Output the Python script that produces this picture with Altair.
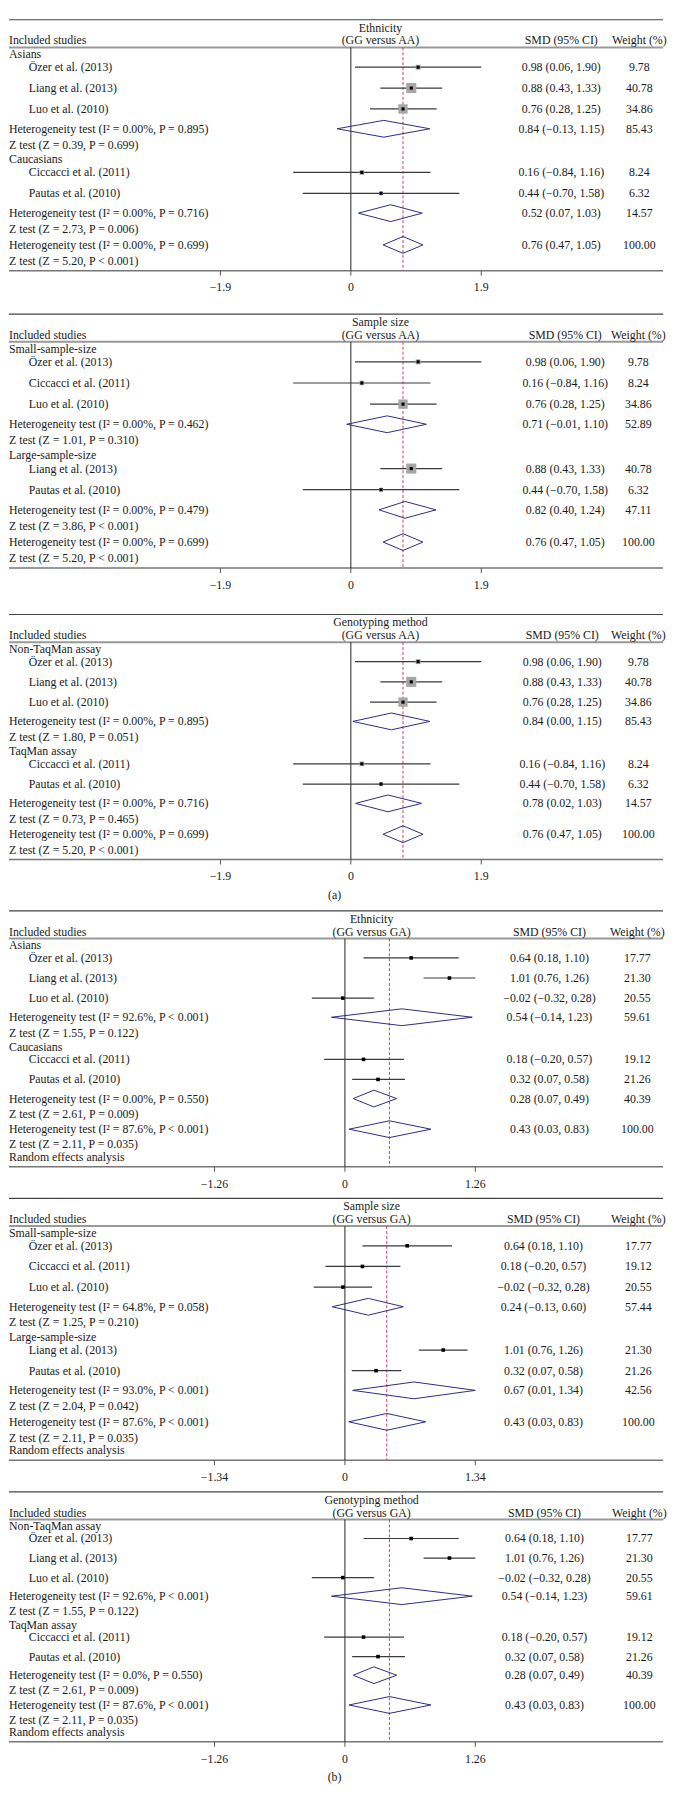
import altair as alt
import pandas as pd

FONT = "Liberation Serif"
FS = 12
W = 662          # plot width of every panel
HR = 28          # header rule position inside a panel
NAVY = "#2b2b80"

# ---------------- (a) GG versus AA ----------------
a1_kind = ["group", "study", "study", "study", "het", "z", "group", "study", "study", "het", "z", "het", "z"]
a1_label = ["Asians", "Özer et al. (2013)", "Liang et al. (2013)", "Luo et al. (2010)",
            "Heterogeneity test (I² = 0.00%, P = 0.895)", "Z test (Z = 0.39, P = 0.699)",
            "Caucasians", "Ciccacci et al. (2011)", "Pautas et al. (2010)",
            "Heterogeneity test (I² = 0.00%, P = 0.716)", "Z test (Z = 2.73, P = 0.006)",
            "Heterogeneity test (I² = 0.00%, P = 0.699)", "Z test (Z = 5.20, P < 0.001)"]
a1_smd = ["", "0.98 (0.06, 1.90)", "0.88 (0.43, 1.33)", "0.76 (0.28, 1.25)", "0.84 (−0.13, 1.15)", "",
          "", "0.16 (−0.84, 1.16)", "0.44 (−0.70, 1.58)", "0.52 (0.07, 1.03)", "", "0.76 (0.47, 1.05)", ""]
a1_weight = ["", "9.78", "40.78", "34.86", "85.43", "", "", "8.24", "6.32", "14.57", "", "100.00", ""]
a1_est = [None, 0.98, 0.88, 0.76, 0.48, None, None, 0.16, 0.44, 0.58, None, 0.76, None]
a1_lo = [None, 0.06, 0.43, 0.28, -0.20, None, None, -0.84, -0.70, 0.11, None, 0.47, None]
a1_hi = [None, 1.90, 1.33, 1.25, 1.15, None, None, 1.16, 1.58, 1.04, None, 1.05, None]

a2_kind = ["group", "study", "study", "study", "het", "z", "group", "study", "study", "het", "z", "het", "z"]
a2_label = ["Small-sample-size", "Özer et al. (2013)", "Ciccacci et al. (2011)", "Luo et al. (2010)",
            "Heterogeneity test (I² = 0.00%, P = 0.462)", "Z test (Z = 1.01, P = 0.310)",
            "Large-sample-size", "Liang et al. (2013)", "Pautas et al. (2010)",
            "Heterogeneity test (I² = 0.00%, P = 0.479)", "Z test (Z = 3.86, P < 0.001)",
            "Heterogeneity test (I² = 0.00%, P = 0.699)", "Z test (Z = 5.20, P < 0.001)"]
a2_smd = ["", "0.98 (0.06, 1.90)", "0.16 (−0.84, 1.16)", "0.76 (0.28, 1.25)", "0.71 (−0.01, 1.10)", "",
          "", "0.88 (0.43, 1.33)", "0.44 (−0.70, 1.58)", "0.82 (0.40, 1.24)", "", "0.76 (0.47, 1.05)", ""]
a2_weight = ["", "9.78", "8.24", "34.86", "52.89", "", "", "40.78", "6.32", "47.11", "", "100.00", ""]
a2_est = [None, 0.98, 0.16, 0.76, 0.53, None, None, 0.88, 0.44, 0.79, None, 0.76, None]
a2_lo = [None, 0.06, -0.84, 0.28, -0.06, None, None, 0.43, -0.70, 0.41, None, 0.47, None]
a2_hi = [None, 1.90, 1.16, 1.25, 1.10, None, None, 1.33, 1.58, 1.24, None, 1.05, None]

a3_kind = ["group", "study", "study", "study", "het", "z", "group", "study", "study", "het", "z", "het", "z"]
a3_label = ["Non-TaqMan assay", "Özer et al. (2013)", "Liang et al. (2013)", "Luo et al. (2010)",
            "Heterogeneity test (I² = 0.00%, P = 0.895)", "Z test (Z = 1.80, P = 0.051)",
            "TaqMan assay", "Ciccacci et al. (2011)", "Pautas et al. (2010)",
            "Heterogeneity test (I² = 0.00%, P = 0.716)", "Z test (Z = 0.73, P = 0.465)",
            "Heterogeneity test (I² = 0.00%, P = 0.699)", "Z test (Z = 5.20, P < 0.001)"]
a3_smd = ["", "0.98 (0.06, 1.90)", "0.88 (0.43, 1.33)", "0.76 (0.28, 1.25)", "0.84 (0.00, 1.15)", "",
          "", "0.16 (−0.84, 1.16)", "0.44 (−0.70, 1.58)", "0.78 (0.02, 1.03)", "", "0.76 (0.47, 1.05)", ""]
a3_weight = ["", "9.78", "40.78", "34.86", "85.43", "", "", "8.24", "6.32", "14.57", "", "100.00", ""]
a3_est = [None, 0.98, 0.88, 0.76, 0.59, None, None, 0.16, 0.44, 0.54, None, 0.76, None]
a3_lo = [None, 0.06, 0.43, 0.28, 0.03, None, None, -0.84, -0.70, 0.07, None, 0.47, None]
a3_hi = [None, 1.90, 1.33, 1.25, 1.15, None, None, 1.16, 1.58, 1.03, None, 1.05, None]

# ---------------- (b) GG versus GA ----------------
b1_kind = ["group", "study", "study", "study", "het", "z", "group", "study", "study", "het", "z", "het", "z", "note"]
b1_label = ["Asians", "Özer et al. (2013)", "Liang et al. (2013)", "Luo et al. (2010)",
            "Heterogeneity test (I² = 92.6%, P < 0.001)", "Z test (Z = 1.55, P = 0.122)",
            "Caucasians", "Ciccacci et al. (2011)", "Pautas et al. (2010)",
            "Heterogeneity test (I² = 0.00%, P = 0.550)", "Z test (Z = 2.61, P = 0.009)",
            "Heterogeneity test (I² = 87.6%, P < 0.001)", "Z test (Z = 2.11, P = 0.035)",
            "Random effects analysis"]
b1_smd = ["", "0.64 (0.18, 1.10)", "1.01 (0.76, 1.26)", "−0.02 (−0.32, 0.28)", "0.54 (−0.14, 1.23)", "",
          "", "0.18 (−0.20, 0.57)", "0.32 (0.07, 0.58)", "0.28 (0.07, 0.49)", "", "0.43 (0.03, 0.83)", "", ""]
b1_weight = ["", "17.77", "21.30", "20.55", "59.61", "", "", "19.12", "21.26", "40.39", "", "100.00", "", ""]
b1_est = [None, 0.64, 1.01, -0.02, 0.55, None, None, 0.18, 0.32, 0.28, None, 0.43, None, None]
b1_lo = [None, 0.18, 0.76, -0.32, -0.13, None, None, -0.20, 0.07, 0.08, None, 0.04, None, None]
b1_hi = [None, 1.10, 1.26, 0.28, 1.23, None, None, 0.57, 0.58, 0.50, None, 0.83, None, None]

b2_kind = ["group", "study", "study", "study", "het", "z", "group", "study", "study", "het", "z", "het", "z", "note"]
b2_label = ["Small-sample-size", "Özer et al. (2013)", "Ciccacci et al. (2011)", "Luo et al. (2010)",
            "Heterogeneity test (I² = 64.8%, P = 0.058)", "Z test (Z = 1.25, P = 0.210)",
            "Large-sample-size", "Liang et al. (2013)", "Pautas et al. (2010)",
            "Heterogeneity test (I² = 93.0%, P < 0.001)", "Z test (Z = 2.04, P = 0.042)",
            "Heterogeneity test (I² = 87.6%, P < 0.001)", "Z test (Z = 2.11, P = 0.035)",
            "Random effects analysis"]
b2_smd = ["", "0.64 (0.18, 1.10)", "0.18 (−0.20, 0.57)", "−0.02 (−0.32, 0.28)", "0.24 (−0.13, 0.60)", "",
          "", "1.01 (0.76, 1.26)", "0.32 (0.07, 0.58)", "0.67 (0.01, 1.34)", "", "0.43 (0.03, 0.83)", "", ""]
b2_weight = ["", "17.77", "19.12", "20.55", "57.44", "", "", "21.30", "21.26", "42.56", "", "100.00", "", ""]
b2_est = [None, 0.64, 0.18, -0.02, 0.24, None, None, 1.01, 0.32, 0.71, None, 0.43, None, None]
b2_lo = [None, 0.18, -0.20, -0.32, -0.13, None, None, 0.76, 0.07, 0.08, None, 0.04, None, None]
b2_hi = [None, 1.10, 0.57, 0.28, 0.60, None, None, 1.26, 0.58, 1.34, None, 0.83, None, None]

b3_kind = ["group", "study", "study", "study", "het", "z", "group", "study", "study", "het", "z", "het", "z", "note"]
b3_label = ["Non-TaqMan assay", "Özer et al. (2013)", "Liang et al. (2013)", "Luo et al. (2010)",
            "Heterogeneity test (I² = 92.6%, P < 0.001)", "Z test (Z = 1.55, P = 0.122)",
            "TaqMan assay", "Ciccacci et al. (2011)", "Pautas et al. (2010)",
            "Heterogeneity test (I² = 0.0%, P = 0.550)", "Z test (Z = 2.61, P = 0.009)",
            "Heterogeneity test (I² = 87.6%, P < 0.001)", "Z test (Z = 2.11, P = 0.035)",
            "Random effects analysis"]
b3_smd = b1_smd
b3_weight = b1_weight
b3_est = b1_est
b3_lo = b1_lo
b3_hi = b1_hi

ticks_a = [-1.9, 0, 1.9]
ticks_a_lab = ["−1.9", "0", "1.9"]
ticks_b = [-1.26, 0, 1.26]
ticks_b_lab = ["−1.26", "0", "1.26"]
ticks_b2 = [-1.34, 0, 1.34]
ticks_b2_lab = ["−1.34", "0", "1.34"]

GAP = {("group", "study"): 13, ("study", "study"): 21, ("study", "het"): 20,
       ("het", "z"): 16, ("z", "group"): 15, ("z", "het"): 16, ("z", "note"): 13}


def build(kind, label, smd, weight, est, lo, hi, title, sub, ticks, tick_lab, ref,
          zero_px, height, rule_y, smd_c, w_c, title_c, squares, letter=None, letter_y=0):
    ppu = 132.0 / ticks[2]
    xs = alt.Scale(domain=[-zero_px / ppu, (W - zero_px) / ppu], nice=False, zero=False)
    ys = alt.Scale(domain=[0, height], reverse=True, nice=False, zero=False)

    def X(f):
        return alt.X(f, type="quantitative", scale=xs, axis=None)

    def Y(f):
        return alt.Y(f, type="quantitative", scale=ys, axis=None)

    # row layout from row kinds
    gaps, prev = [], None
    for k in kind:
        gaps.append(0 if prev is None else GAP[(prev, k)])
        prev = k
    first, last = HR + 7, rule_y - 10
    f = (last - first) / sum(gaps)
    yv, acc = [], first
    for g in gaps:
        acc += g * f
        yv.append(acc)

    df = pd.DataFrame({"kind": kind, "label": label, "smd": smd, "weight": weight,
                       "est": est, "lo": lo, "hi": hi, "y": yv})
    df["wnum"] = pd.to_numeric(df["weight"], errors="coerce")
    studies = df[df.kind == "study"]
    hets = df[df.kind == "het"].reset_index(drop=True)

    dia = []
    for i, r in hets.iterrows():
        pts = [(r.lo, r.y), (r.est, r.y - 8.5), (r.hi, r.y), (r.est, r.y + 8.5), (r.lo, r.y)]
        for j, (px, py) in enumerate(pts):
            dia.append({"id": i, "o": j, "x": px, "y": py})
    dia = pd.DataFrame(dia)

    hlines = pd.DataFrame({"y": [0.0, float(HR), float(rule_y)]})
    vlines = pd.DataFrame({"x": [0.0], "r": [ref], "y1": [float(HR)], "y2": [float(rule_y)]})
    tk = pd.DataFrame({"x": ticks, "lab": tick_lab, "y1": [float(rule_y)] * 3,
                       "y2": [rule_y + 5.0] * 3, "yl": [rule_y + 17.0] * 3})
    one = pd.DataFrame({"a": [0]})

    layers = [
        alt.Chart(hlines.iloc[[0]]).mark_rule(color="#444", strokeWidth=1.2).encode(
            x=alt.value(0), x2=alt.value(W), y=Y("y")),
        alt.Chart(hlines.iloc[[1]]).mark_rule(color="#999", strokeWidth=2).encode(
            x=alt.value(0), x2=alt.value(W), y=Y("y")),
        alt.Chart(hlines.iloc[[2]]).mark_rule(color="#777", strokeWidth=1.6).encode(
            x=alt.value(0), x2=alt.value(W), y=Y("y")),
        alt.Chart(vlines).mark_rule(color="#222", strokeWidth=1).encode(
            x=X("x"), y=Y("y1"), y2="y2"),
        alt.Chart(vlines).mark_rule(color="#c8405f", strokeWidth=1, strokeDash=[3, 2]).encode(
            x=X("r"), y=Y("y1"), y2="y2"),
        alt.Chart(tk).mark_rule(color="#555", strokeWidth=1).encode(
            x=X("x"), y=Y("y1"), y2="y2"),
        alt.Chart(tk).mark_text(baseline="middle").encode(
            x=X("x"), y=Y("yl"), text="lab:N"),
        alt.Chart(studies).mark_rule(color="#3a3a3a", strokeWidth=1.2).encode(
            x=X("lo"), x2="hi", y=Y("y")),
    ]
    if squares:
        layers.append(alt.Chart(studies).mark_square(color="#a6a6a6", opacity=1).encode(
            x=X("est"), y=Y("y"),
            size=alt.Size("wnum:Q", scale=alt.Scale(domain=[0, 50], range=[0, 128]), legend=None)))
    layers += [
        alt.Chart(studies).mark_square(color="#000", size=10 if squares else 13, opacity=1).encode(
            x=X("est"), y=Y("y")),
        alt.Chart(dia).mark_line(color=NAVY, strokeWidth=1).encode(
            x=X("x"), y=Y("y"), detail="id:N", order="o:Q"),
        alt.Chart(df[df.kind != "study"]).mark_text(align="left", baseline="middle").encode(
            x=alt.value(0), y=Y("y"), text="label:N"),
        alt.Chart(studies).mark_text(align="left", baseline="middle").encode(
            x=alt.value(20), y=Y("y"), text="label:N"),
        alt.Chart(df[df.smd != ""]).mark_text(align="center", baseline="middle").encode(
            x=alt.value(smd_c), y=Y("y"), text="smd:N"),
        alt.Chart(df[df.weight != ""]).mark_text(align="center", baseline="middle").encode(
            x=alt.value(w_c), y=Y("y"), text="weight:N"),
        alt.Chart(one).mark_text(text=title, align="center", baseline="middle").encode(
            x=alt.value(title_c), y=alt.value(8)),
        alt.Chart(one).mark_text(text=sub, align="center", baseline="middle").encode(
            x=alt.value(title_c), y=alt.value(21)),
        alt.Chart(one).mark_text(text="Included studies", align="left", baseline="middle").encode(
            x=alt.value(0), y=alt.value(21)),
        alt.Chart(one).mark_text(text="SMD (95% CI)", align="center", baseline="middle").encode(
            x=alt.value(smd_c), y=alt.value(21)),
        alt.Chart(one).mark_text(text="Weight (%)", align="center", baseline="middle").encode(
            x=alt.value(w_c), y=alt.value(21)),
    ]
    if letter:
        layers.append(alt.Chart(one).mark_text(text=letter, align="center", baseline="middle").encode(
            x=alt.value(329.5), y=alt.value(letter_y)))
    return alt.layer(*layers).properties(width=W, height=height)


p1 = build(a1_kind, a1_label, a1_smd, a1_weight, a1_est, a1_lo, a1_hi, "Ethnicity", "(GG versus AA)",
           ticks_a, ticks_a_lab, 0.76, 346, 298, 254, 559, 638, 376, True)
p2 = build(a2_kind, a2_label, a2_smd, a2_weight, a2_est, a2_lo, a2_hi, "Sample size", "(GG versus AA)",
           ticks_a, ticks_a_lab, 0.76, 346, 304, 257, 563, 637, 376, True)
p3 = build(a3_kind, a3_label, a3_smd, a3_weight, a3_est, a3_lo, a3_hi, "Genotyping method", "(GG versus AA)",
           ticks_a, ticks_a_lab, 0.76, 346, 300, 248, 560, 637, 376, True, "(a)", 284)
p4 = build(b1_kind, b1_label, b1_smd, b1_weight, b1_est, b1_lo, b1_hi, "Ethnicity", "(GG versus GA)",
           ticks_b, ticks_b_lab, 0.43, 340, 291, 259, 547, 636, 367, False)
p5 = build(b2_kind, b2_label, b2_smd, b2_weight, b2_est, b2_lo, b2_hi, "Sample size", "(GG versus GA)",
           ticks_b2, ticks_b2_lab, 0.43, 340, 297, 265, 541, 637, 367, False)
p6 = build(b3_kind, b3_label, b3_smd, b3_weight, b3_est, b3_lo, b3_hi, "Genotyping method", "(GG versus GA)",
           ticks_b, ticks_b_lab, 0.43, 340, 300, 253, 542, 638, 367, False, "(b)", 289)

chart = (
    alt.vconcat(p1, p2, p3, p4, p5, p6, spacing=0, bounds="flush")
    .properties(padding=0)
    .configure_view(stroke=None)
    .configure_text(font=FONT, fontSize=FS, color="#1a1a1a")
)

chart.save("out.html", embed_options={"renderer": "svg", "actions": False})
